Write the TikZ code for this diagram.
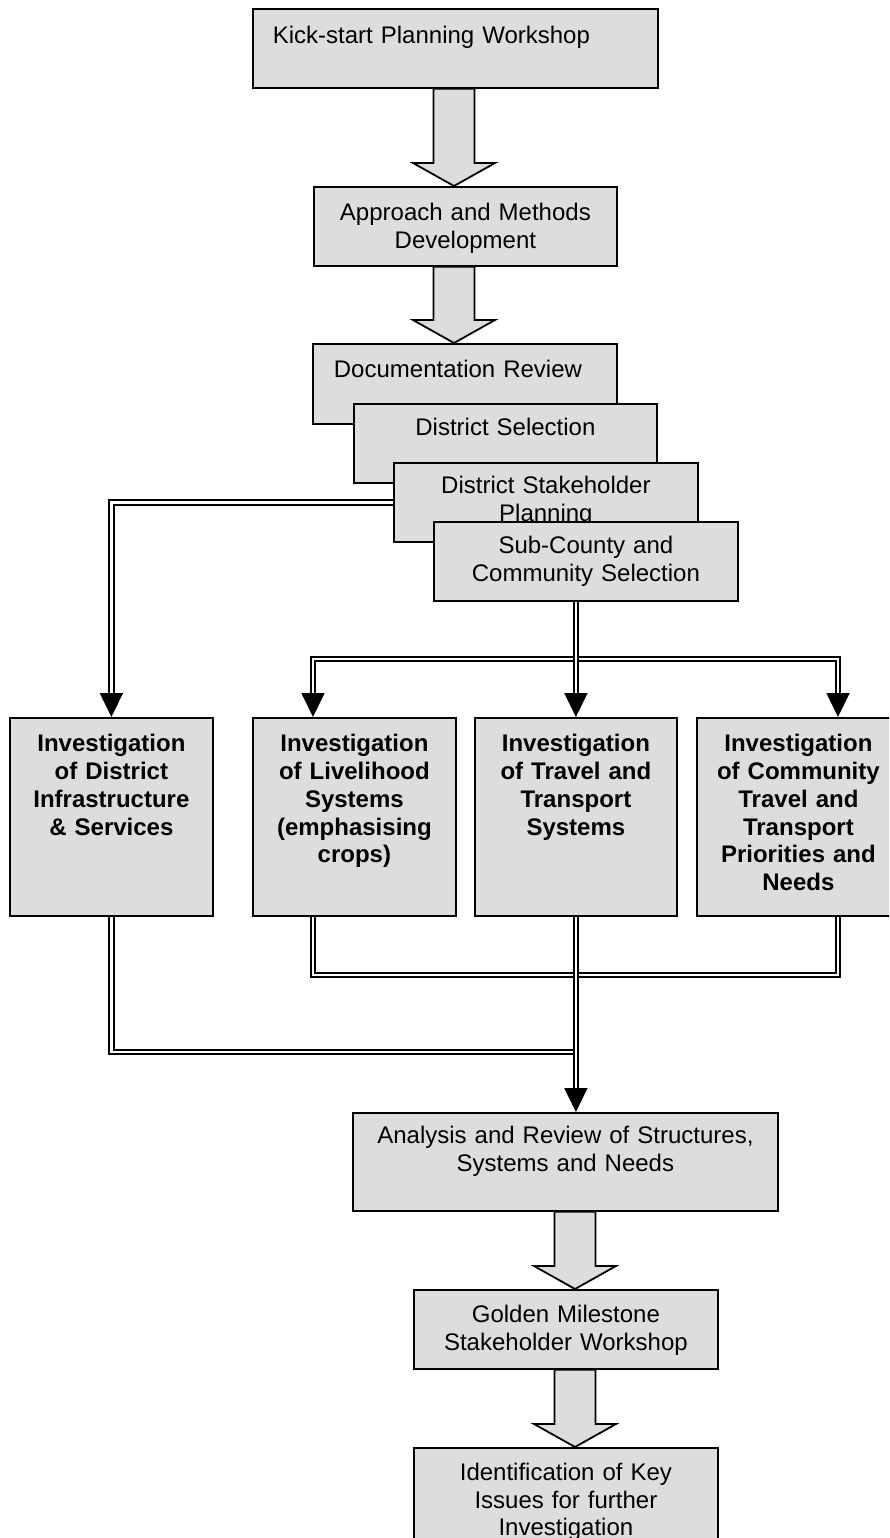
\documentclass[tikz,border=0pt]{standalone}
\usepackage{fontspec}
\setmainfont{Liberation Sans}
\usetikzlibrary{arrows.meta,calc}
\definecolor{boxgray}{RGB}{221,221,221}
\newcommand\blockarrow[3]{%
  \draw[barrow] ($(#1.south -| #3)+(-20.5,0)$) -- ($(#2.north -| #3)+(-20.5,-23)$)
    -- ($(#2.north -| #3)+(-41,-23)$) -- (#2.north -| #3)
    -- ($(#2.north -| #3)+(41,-23)$) -- ($(#2.north -| #3)+(20.5,-23)$)
    -- ($(#1.south -| #3)+(20.5,0)$) -- cycle;}
\begin{document}
\begin{tikzpicture}[x=1pt,y=-1pt,
  box/.style={draw=black, line width=1.8pt, fill=boxgray, inner sep=0pt,
    anchor=north west, align=center, font=\fontsize{24}{27.5}\selectfont},
  inv/.style={box, text width=203pt, text height=34pt, text depth=164pt,
    font=\fontsize{24}{27.7}\selectfont\bfseries},
  barrow/.style={draw=black, line width=1.8pt, fill=boxgray, line join=miter},
  dbl/.style={draw=black, double=white, double distance=2.7pt, line width=1.8pt},
  tip/.tip={Triangle[width=23pt,length=24pt]}]
\useasboundingbox (0,0) rectangle (889,1538);
\clip (0,0) rectangle (889,1538);

% top sequence
\node[box, text width=405pt, text height=35pt, text depth=44pt, align=left] (k) at (252,8)
  {\hspace*{20pt}Kick-start Planning Workshop};
\node[box, text width=303pt, text height=34pt, text depth=45pt] (am) at (313,186)
  {Approach and Methods\\Development};
\node[box, text width=304pt, text height=34pt, text depth=46pt, align=left] (dr) at (312,343)
  {\hspace*{21pt}Documentation Review};
\node[box, text width=303pt, text height=32pt, text depth=47pt] (ds) at (353,403)
  {District Selection};
\node[box, text width=304pt, text height=31pt, text depth=48pt] (sp) at (393,462)
  {District Stakeholder\\Planning};
\node[box, text width=304pt, text height=32pt, text depth=47pt] (sc) at (433,521)
  {Sub-County and\\Community Selection};

% investigation boxes
\node[inv] (A) at (9,717) {Investigation\\of District\\Infrastructure\\\& Services};
\node[inv] (B) at (252,717) {Investigation\\of Livelihood\\Systems\\(emphasising\\crops)};
\node[inv, text width=202pt] (C) at (474,717) {Investigation\\of Travel and\\Transport\\Systems};
\node[inv] (D) at (696,717) {Investigation\\of Community\\Travel and\\Transport\\Priorities and\\Needs};

% bottom sequence
\node[box, text width=425pt, text height=31pt, text depth=67pt] (an) at (352,1112)
  {Analysis and Review of Structures,\\Systems and Needs};
\node[box, text width=304pt, text height=33pt, text depth=46pt] (gm) at (413,1289)
  {Golden Milestone\\Stakeholder Workshop};
\node[box, text width=304pt, text height=33pt, text depth=100pt] (id) at (413,1447)
  {Identification of Key\\Issues for further\\Investigation};

% columns for block arrows and branch points
\coordinate (ax) at (454,0);
\coordinate (bx) at (575,0);
\coordinate (bl) at (313,659);
\coordinate (br) at (838,659);
\coordinate (jl) at (575,1052);
\coordinate (jr) at (838,975);

% block arrows
\blockarrow{k}{am}{ax}
\blockarrow{am}{dr}{ax}
\blockarrow{an}{gm}{bx}
\blockarrow{gm}{id}{bx}

% double-line connectors
\draw[dbl, -tip] (sp.west) -| (A.north);
\draw[dbl, tip-tip] (B.north -| bl) -- (bl) -- (br) -- (D.north -| br);
\draw[dbl, -tip] (C.north |- sc.south) -- (C.north);
\draw[dbl] (A.south) |- (jl);
\draw[dbl] (B.south -| bl) |- (jr) -- (D.south -| br);
\draw[dbl, -tip] (C.south) -- (C.south |- an.north);
\end{tikzpicture}
\end{document}
